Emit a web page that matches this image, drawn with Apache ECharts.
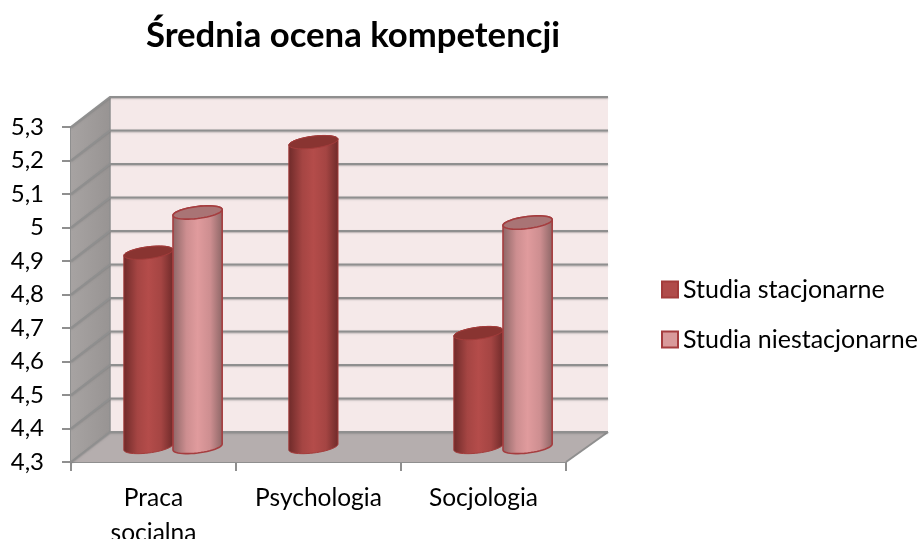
<!DOCTYPE html>
<html><head><meta charset="utf-8">
<style>html,body{margin:0;padding:0;background:#fff;overflow:hidden}#c{width:919px;height:539px}</style>
<script src="https://cdn.jsdelivr.net/npm/echarts@6/dist/echarts.min.js"></script>
</head><body><div id="c"></div>
<script>
const titleText = 'Średnia ocena kompetencji';
const categories = ['Praca\nsocjalna', 'Psychologia', 'Socjologia'];
const seriesNames = ['Studia stacjonarne', 'Studia niestacjonarne'];
const stacjonarne = [4.88, 5.21, 4.64];
const niestacjonarne = [5.0, null, 4.97];
const yTicks = [4.3, 4.4, 4.5, 4.6, 4.7, 4.8, 4.9, 5.0, 5.1, 5.2, 5.3];

const FONT = 'Lato';
const DX = 39, DY = -30;          // depth of the 3D box
const GRID = '#8f8f8f';

function renderWall(params, api) {
  const cs = params.coordSys;
  const x0 = cs.x, x1 = cs.x + cs.width, yb = cs.y + cs.height, yt = cs.y;
  const children = [];
  if (params.dataIndex === 0) {
    children.push({type:'polygon', shape:{points:[[x0+DX,yt+DY],[x1+DX+3,yt+DY],[x1+DX+3,yb+DY],[x0+DX,yb+DY]]}, style:{fill:'#f5e9e9'}});
    children.push({type:'polygon', shape:{points:[[x0,yt],[x0+DX,yt+DY],[x0+DX,yb+DY],[x0,yb]]},
      style:{fill:{type:'linear',x:0,y:0,x2:1,y2:0,colorStops:[{offset:0,color:'#a7a3a2'},{offset:1,color:'#989493'}]}}});
    children.push({type:'polygon', shape:{points:[[x0,yb],[x0+DX,yb+DY],[x1+DX+3,yb+DY],[x1,yb]]}, style:{fill:'#b5aeae'}});
    children.push({type:'line', shape:{x1:x1,y1:yb,x2:x1+DX+3,y2:yb+DY}, style:{stroke:GRID,lineWidth:2}});
    children.push({type:'line', shape:{x1:x0+DX,y1:yt+DY,x2:x0+DX,y2:yb+DY}, style:{stroke:GRID,lineWidth:1.5}});
  }
  const y = api.coord([0, api.value(0)])[1];
  children.push({type:'polyline', shape:{points:[[x0,y],[x0+DX,y+DY],[x1+DX+3,y+DY]]},
    style:{fill:null,stroke:GRID,lineWidth:2,shadowBlur:1.5,shadowColor:'rgba(120,120,120,0.5)',shadowOffsetY:1}});
  return {type:'group', children};
}

function ellipsePts(cx, cy, rx, ry, from, to, n) {
  const pts = [];
  for (let i = 0; i <= n; i++) {
    const t = from + (to - from) * i / n;
    pts.push([cx + rx * Math.cos(t), cy - 0.12 * rx * Math.cos(t) + ry * Math.sin(t)]);
  }
  return pts;
}

function cylinder(seriesIdx, look) {
  return function (params, api) {
    const v = api.value(1);
    if (v == null || isNaN(v)) return null;
    const top = api.coord([api.value(0), v]);
    const base = api.coord([api.value(0), yTicks[0]]);
    const w = api.size([1, 0])[0] * 0.298;
    const cx = top[0] + DX / 2 + (seriesIdx === 0 ? -w / 2 : w / 2);
    const topY = top[1] + DY / 2, baseY = base[1] + DY / 2;
    const rx = w / 2, ry = 6;
    const body = ellipsePts(cx, baseY, rx, ry, Math.PI, 0, 24).reverse()
      .concat(ellipsePts(cx, topY, rx, ry, 0, -Math.PI, 24).reverse());
    return {type:'group', children:[
      {type:'polygon', shape:{points:body}, style:{
        fill:{type:'linear',x:0,y:0,x2:1,y2:0,colorStops:look.stops}, stroke:look.stroke, lineWidth:look.lw}},
      {type:'polygon', shape:{points:ellipsePts(cx, topY, rx, ry, 0, 2 * Math.PI, 48)}, style:{
        fill:look.top, stroke:look.stroke, lineWidth:look.lw}}
    ]};
  };
}

const redLook = {top:'#893431', stroke:'#a33c3b', lw:1,
  stops:[{offset:0,color:'#6e2a29'},{offset:0.28,color:'#a54543'},{offset:0.5,color:'#b44c4a'},{offset:0.75,color:'#a54543'},{offset:1,color:'#6e2a29'}]};
const pinkLook = {top:'#a97475', stroke:'#a53d3f', lw:1.6,
  stops:[{offset:0,color:'#8b6565'},{offset:0.28,color:'#cd8e90'},{offset:0.5,color:'#e09b9d'},{offset:0.75,color:'#cd8e90'},{offset:1,color:'#8b6565'}]};

const chart = echarts.init(document.getElementById('c'), null, {renderer:'canvas'});
chart.setOption({
  animation:false,
  backgroundColor:'#fff',
  textStyle:{fontFamily:FONT},
  title:{text:titleText, left:348, top:13, textAlign:'center',
    textStyle:{fontFamily:FONT,fontSize:34.7,fontWeight:'bold',color:'#000'}},
  grid:{left:71, right:353, top:127, bottom:77, outerBoundsMode:'none'},
  legend:{orient:'vertical', left:656, top:272, itemWidth:16, itemHeight:16, itemGap:25, icon:'rect',
    data:seriesNames, textStyle:{fontFamily:FONT,fontSize:25,color:'#000',padding:[0,0,0,0]}},
  xAxis:{type:'category', data:categories, axisLine:{lineStyle:{color:GRID,width:2}},
    axisTick:{show:true,alignWithLabel:false,length:9,lineStyle:{color:GRID,width:2}},
    axisLabel:{fontFamily:FONT,fontSize:24.5,color:'#000',margin:19,lineHeight:35,interval:0}, splitLine:{show:false}},
  yAxis:{type:'value', min:4.3, max:5.3, interval:0.1, axisLine:{show:true,lineStyle:{color:GRID,width:2}},
    axisTick:{show:true,length:9,lineStyle:{color:GRID,width:2}}, splitLine:{show:false},
    axisLabel:{fontFamily:FONT,fontSize:24,color:'#000',margin:27,
      formatter:v => String(+(+v).toFixed(1)).replace('.', ',')}},
  series:[
    {type:'custom', name:'_walls', silent:true, z:1, renderItem:renderWall, encode:{y:0}, data:yTicks.map(t=>[t]), clip:false},
    {type:'custom', name:seriesNames[0], z:3, renderItem:cylinder(0, redLook), encode:{x:0,y:1},
      itemStyle:{color:'#b04b4a',borderColor:'#a33c3b',borderWidth:1},
      data:categories.map((c,i)=>[i, stacjonarne[i]])},
    {type:'custom', name:seriesNames[1], z:4, renderItem:cylinder(1, pinkLook), encode:{x:0,y:1},
      itemStyle:{color:'#d99a9b',borderColor:'#a53d3f',borderWidth:1.5},
      data:categories.map((c,i)=>[i, niestacjonarne[i]])}
  ]
});
</script></body></html>
